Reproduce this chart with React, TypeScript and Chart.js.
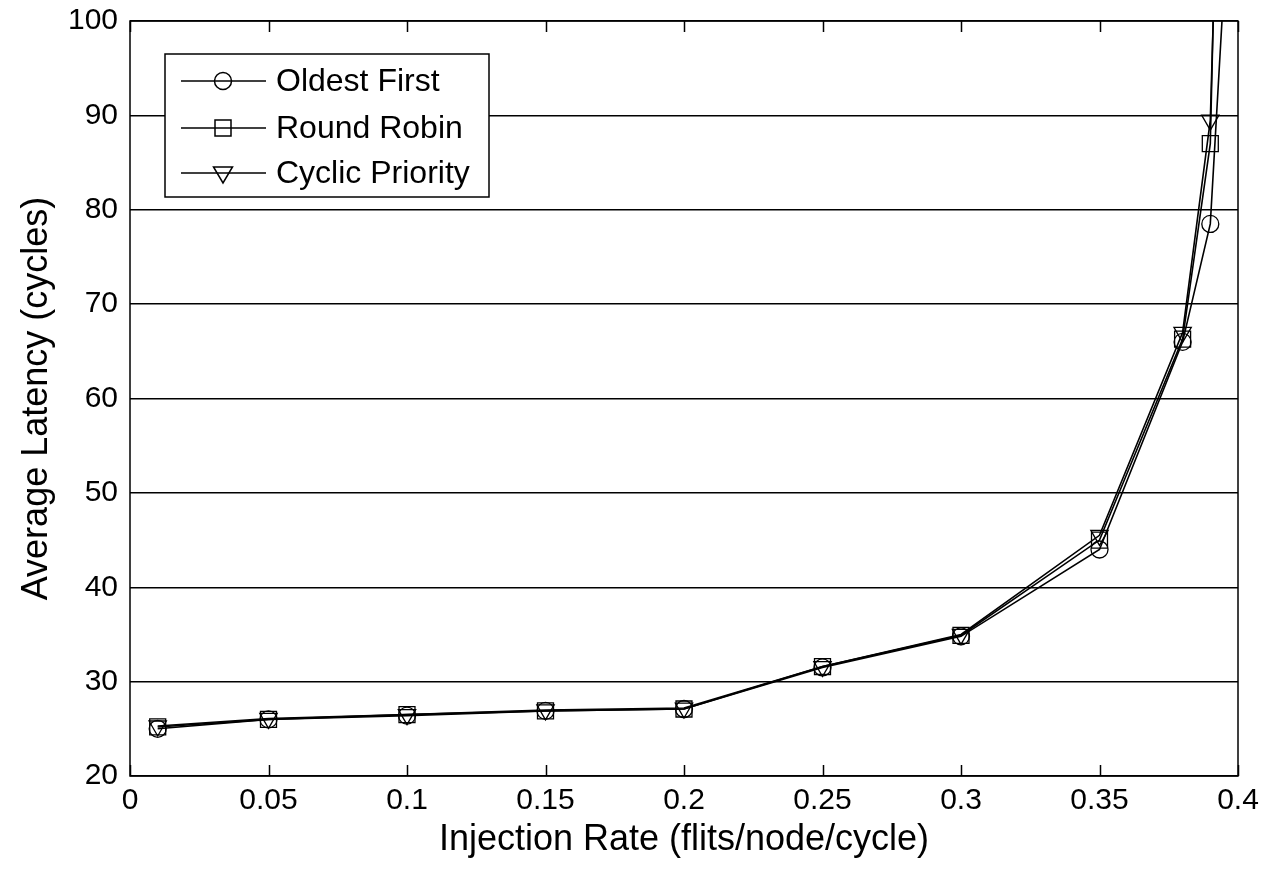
import React, { useEffect, useRef } from "react";
import { Chart, registerables } from "chart.js";

Chart.register(...registerables);

const injectionRates = [0.01, 0.05, 0.1, 0.15, 0.2, 0.25, 0.3, 0.35, 0.38, 0.39, 0.395];
const oldestFirst = [25.0, 26.0, 26.4, 26.9, 27.1, 31.5, 34.8, 44.0, 66.0, 78.5, 104];
const roundRobin = [25.2, 26.0, 26.5, 26.9, 27.1, 31.6, 34.9, 45.0, 66.3, 87.0, 150];
const cyclicPriority = [25.3, 26.1, 26.5, 27.0, 27.2, 31.6, 35.0, 45.5, 67.0, 89.5, 140];

const xTickValues = [0, 0.05, 0.1, 0.15, 0.2, 0.25, 0.3, 0.35, 0.4];
const xTickLabels = ["0", "0.05", "0.1", "0.15", "0.2", "0.25", "0.3", "0.35", "0.4"];
const yTickValues = [20, 30, 40, 50, 60, 70, 80, 90, 100];

const seriesLabels = ["Oldest First", "Round Robin", "Cyclic Priority"];
const seriesMarkers = ["circle", "rect", "triangle"];
const markerRadii = [8.5, 11.3, 10];

const FONT = "'Liberation Sans', Arial, sans-serif";

function drawMarker(ctx: CanvasRenderingContext2D, style: string, x: number, y: number) {
  ctx.beginPath();
  if (style === "circle") {
    ctx.arc(x, y, 8.5, 0, Math.PI * 2);
  } else if (style === "rect") {
    ctx.rect(x - 8, y - 8, 16, 16);
  } else {
    ctx.moveTo(x - 9.5, y - 6);
    ctx.lineTo(x + 9.5, y - 6);
    ctx.lineTo(x, y + 10);
    ctx.closePath();
  }
  ctx.stroke();
}

const framePlugin = {
  id: "frameAndLegend",
  afterDraw(chart: any) {
    const { ctx, chartArea } = chart;
    const xs = chart.scales.x;
    ctx.save();
    ctx.strokeStyle = "#000";
    ctx.lineWidth = 1.5;
    ctx.strokeRect(chartArea.left, chartArea.top, chartArea.right - chartArea.left, chartArea.bottom - chartArea.top);
    // inward x ticks
    ctx.beginPath();
    for (const v of xTickValues) {
      const px = Math.round(xs.getPixelForValue(v)) + 0.5;
      ctx.moveTo(px, chartArea.bottom);
      ctx.lineTo(px, chartArea.bottom - 11);
      ctx.moveTo(px, chartArea.top);
      ctx.lineTo(px, chartArea.top + 11);
    }
    ctx.stroke();

    // legend
    const bx = 165, by = 54, bw = 324, bh = 143;
    ctx.fillStyle = "#fff";
    ctx.fillRect(bx, by, bw, bh);
    ctx.lineWidth = 1.5;
    ctx.strokeRect(bx, by, bw, bh);
    ctx.font = `32px ${FONT}`;
    ctx.textBaseline = "middle";
    ctx.textAlign = "left";
    const rows = [81, 128, 173];
    chart.data.datasets.forEach((ds: any, i: number) => {
      const y = rows[i];
      ctx.beginPath();
      ctx.moveTo(181, y);
      ctx.lineTo(266, y);
      ctx.stroke();
      drawMarker(ctx, seriesMarkers[i], 223, y);
      ctx.fillStyle = "#000";
      ctx.fillText(ds.label, 276, y + 1);
    });
    ctx.restore();
  },
};

function clearPadding(s: any) {
  s.paddingLeft = 0;
  s.paddingRight = 0;
  s.paddingTop = 0;
  s.paddingBottom = 0;
}

export default function App() {
  const canvasRef = useRef<HTMLCanvasElement>(null);

  useEffect(() => {
    document.body.style.margin = "0";
    const canvas = canvasRef.current!;
    const series = [oldestFirst, roundRobin, cyclicPriority];
    const chart = new Chart(canvas, {
      type: "line",
      data: {
        datasets: series.map((vals, i) => ({
          label: seriesLabels[i],
          data: injectionRates.map((x, j) => ({ x, y: vals[j] })),
          borderColor: "#000",
          borderWidth: 1.6,
          backgroundColor: "rgba(0,0,0,0)",
          pointStyle: seriesMarkers[i] as any,
          pointRotation: i === 2 ? 180 : 0,
          pointRadius: markerRadii[i],
          pointBorderColor: "#000",
          pointBorderWidth: 1.3,
          pointBackgroundColor: "rgba(0,0,0,0)",
          tension: 0,
          fill: false,
        })),
      },
      options: {
        animation: false,
        responsive: false,
        maintainAspectRatio: false,
        layout: { padding: { left: 0, right: 27, top: 21, bottom: 0 } },
        plugins: { legend: { display: false }, tooltip: { enabled: false } },
        scales: {
          x: {
            type: "linear",
            min: 0,
            max: 0.4,
            afterBuildTicks: (s: any) => {
              s.ticks = xTickValues.map((v) => ({ value: v }));
            },
            afterFit: (s: any) => {
              s.height = 93;
              clearPadding(s);
            },
            grid: { display: false, drawTicks: false },
            border: { display: false },
            ticks: {
              color: "#000",
              padding: 7,
              maxRotation: 0,
              font: { family: FONT, size: 30 },
              callback: (v: any) => {
                const idx = xTickValues.findIndex((t) => Math.abs(t - v) < 1e-9);
                return idx >= 0 ? xTickLabels[idx] : "";
              },
            },
            title: {
              display: true,
              text: "Injection Rate (flits/node/cycle)",
              color: "#000",
              font: { family: FONT, size: 36 },
              padding: { top: 0, bottom: 7 },
            },
          },
          y: {
            type: "linear",
            min: 20,
            max: 100,
            afterBuildTicks: (s: any) => {
              s.ticks = yTickValues.map((v) => ({ value: v }));
            },
            afterFit: (s: any) => {
              s.width = 130;
              clearPadding(s);
            },
            grid: { display: true, color: "#000", lineWidth: 1.5, drawTicks: false },
            border: { display: false },
            ticks: {
              color: "#000",
              padding: 12,
              font: { family: FONT, size: 30 },
            },
            title: {
              display: true,
              text: "Average Latency (cycles)",
              color: "#000",
              font: { family: FONT, size: 36 },
              padding: { top: 15, bottom: 0 },
            },
          },
        },
      },
      plugins: [framePlugin],
    });
    return () => chart.destroy();
  }, []);

  return (
    <div style={{ width: 1265, height: 869, background: "#fff" }}>
      <canvas ref={canvasRef} width={1265} height={869} style={{ display: "block" }} />
    </div>
  );
}
